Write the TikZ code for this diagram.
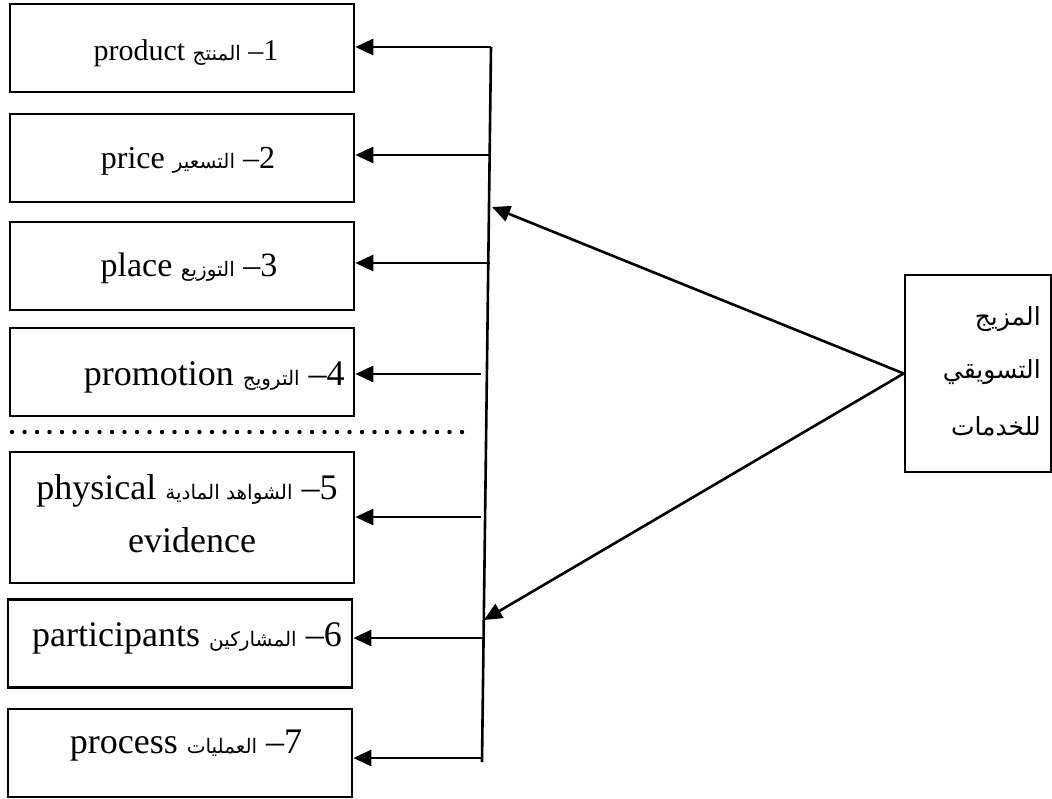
\documentclass[tikz,border=0pt]{standalone}
\usepackage{fontspec}
\setmainfont{Liberation Serif}
\newfontfamily\arabicfont[Script=Arabic]{DejaVu Sans}
\TeXXeTstate=1
\usetikzlibrary{arrows.meta}
% Arabic words inside the mixed labels
\newcommand{\artxt}[1]{{\arabicfont\fontsize{10}{12}\selectfont\beginR #1\endR}}
\newcommand{\arbig}[1]{{\arabicfont\fontsize{12.5}{15}\selectfont\beginR #1\endR}}
\begin{document}
\begin{tikzpicture}[x=0.5pt,y=-0.5pt,
  line width=1.3pt,
  itembox/.style={draw,minimum width=172pt,minimum height=44pt,inner sep=0pt},
  lbl/.style={anchor=base,inner sep=0pt},
  arr/.style={-{Triangle[length=9pt,width=8pt]}}]
\useasboundingbox (0,0) rectangle (1052,798);

% the seven elements
\node[itembox] (b1) at (182,48) {};
\node[itembox] (b2) at (182,158) {};
\node[itembox] (b3) at (182,266) {};
\node[itembox] (b4) at (182,372) {};
\node[itembox,minimum height=65.5pt] (b5) at (182,517.5) {};
\node[itembox] (b6) at (180,643.5) {};
\node[itembox] (b7) at (180,753) {};

\node[lbl] (t1) at (186,60) {\fontsize{15}{18}\selectfont product \artxt{المنتج} –1};
\node[lbl] (t2) at (188,168) {\fontsize{16}{19}\selectfont price \artxt{التسعير} –2};
\node[lbl] (t3) at (189,276) {\fontsize{17}{20}\selectfont place \artxt{التوزيع} –3};
\node[lbl,anchor=base east] (t4) at (346,385) {\fontsize{18}{21}\selectfont promotion \artxt{الترويج} –4};
\node[lbl] (t5) at (187,499) {\fontsize{18}{21}\selectfont physical \artxt{الشواهد المادية} –5};
\node[lbl] (t5b) at (192,552) {\fontsize{18}{21}\selectfont evidence};
\node[lbl] (t6) at (187,646) {\fontsize{18}{21}\selectfont participants \artxt{المشاركين} –6};
\node[lbl] (t7) at (186,753) {\fontsize{18}{21}\selectfont process \artxt{العمليات} –7};

% separator between the classic four and the extended three
\draw[line width=2.2pt,line cap=round,dash pattern=on 0pt off 6.25pt] (12,432) -- (468,432);

% source box
\node[draw,minimum width=73pt,minimum height=98.5pt,inner sep=0pt] (rb) at (978,373.5) {};
\node[lbl,anchor=base east] (r1) at (1042,325) {\arbig{المزيج}};
\node[lbl,anchor=base east] (r2) at (1042,378) {\arbig{التسويقي}};
\node[lbl,anchor=base east] (r3) at (1042,435) {\arbig{للخدمات}};

% distribution bus
\coordinate (vt) at (491,47);
\coordinate (vb) at (482,762);
\draw (vt) -- (vb);
\coordinate (s1) at (491,47);
\coordinate (s2) at (490,155);
\coordinate (s3) at (490,263);
\coordinate (s4) at (481,374);
\coordinate (s5) at (481,517);
\coordinate (s6) at (483,638);
\coordinate (s7) at (482,758);
\draw[arr] (s1) -- (s1 -| b1.east);
\draw[arr] (s2) -- (s2 -| b2.east);
\draw[arr] (s3) -- (s3 -| b3.east);
\draw[arr] (s4) -- (s4 -| b4.east);
\draw[arr] (s5) -- (s5 -| b5.east);
\draw[arr] (s6) -- (s6 -| b6.east);
\draw[arr] (s7) -- (s7 -| b7.east);

% links from the source box to the bus
\coordinate (d1) at (492,207);
\coordinate (d2) at (484,620);
\draw[arr] (rb.west) -- (d1);
\draw[arr] (rb.west) -- (d2);
\end{tikzpicture}
\end{document}
